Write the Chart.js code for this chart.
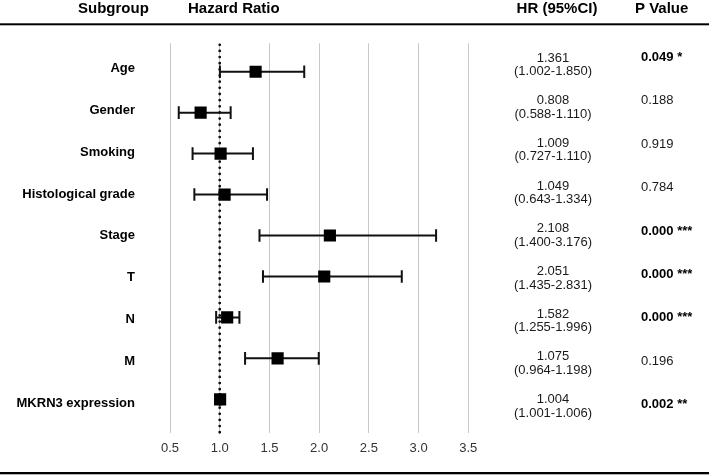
<!DOCTYPE html>
<html>
<head>
<meta charset="utf-8">
<script src="https://cdn.jsdelivr.net/npm/chart.js@4/dist/chart.umd.min.js"></script>
<style>
  html, body { margin: 0; padding: 0; background: #fff; }
  #wrap { width: 709px; height: 475px; position: relative; }
</style>
</head>
<body>
<div id="wrap"><canvas id="forest"></canvas></div>
<script>
// rows, top to bottom
const subgroups = ['Age', 'Gender', 'Smoking', 'Histological grade', 'Stage', 'T', 'N', 'M', 'MKRN3 expression'];

// values as plotted
const hrPlot    = [1.361, 0.808, 1.009, 1.049, 2.108, 2.051, 1.075, 1.582, 1.004];
const lowerPlot = [1.002, 0.588, 0.727, 0.745, 1.400, 1.435, 0.964, 1.255, 1.001];
const upperPlot = [1.850, 1.110, 1.334, 1.476, 3.176, 2.831, 1.198, 1.996, 1.006];

// table columns as printed
const hrText = ['1.361', '0.808', '1.009', '1.049', '2.108', '2.051', '1.582', '1.075', '1.004'];
const ciText = ['(1.002-1.850)', '(0.588-1.110)', '(0.727-1.110)', '(0.643-1.334)', '(1.400-3.176)',
                '(1.435-2.831)', '(1.255-1.996)', '(0.964-1.198)', '(1.001-1.006)'];
const pText  = ['0.049 *', '0.188', '0.919', '0.784', '0.000 ***', '0.000 ***', '0.000 ***', '0.196', '0.002 **'];
const pBold  = [true, false, false, false, true, true, true, false, true];

const headers = ['Subgroup', 'Hazard Ratio', 'HR (95%CI)', 'P Value'];
const xMin = 0.5, xMax = 3.5, xStep = 0.5;
const refValue = 1.0;

const FONT = '"Liberation Sans", Arial, Helvetica, sans-serif';

const points = hrPlot.map((v, i) => ({ x: v, y: i }));

const forestPlugin = {
    id: 'forest',
    beforeDatasetsDraw(chart) {
        const ctx = chart.ctx;
        const xs = chart.scales.x, ys = chart.scales.y;
        const area = chart.chartArea;

        // dotted line at HR = 1
        const xr = xs.getPixelForValue(refValue);
        ctx.save();
        ctx.strokeStyle = '#111';
        ctx.lineWidth = 2.8;
        ctx.lineCap = 'round';
        ctx.setLineDash([0, 6.15]);
        ctx.beginPath();
        ctx.moveTo(xr, area.top + 1.5);
        ctx.lineTo(xr, area.bottom);
        ctx.stroke();
        ctx.restore();

        // error bars with caps
        ctx.save();
        ctx.strokeStyle = '#111';
        ctx.lineWidth = 2;
        for (let i = 0; i < subgroups.length; i++) {
            const y = ys.getPixelForValue(i);
            const x1 = xs.getPixelForValue(lowerPlot[i]);
            const x2 = xs.getPixelForValue(upperPlot[i]);
            ctx.beginPath();
            ctx.moveTo(x1, y); ctx.lineTo(x2, y);
            ctx.moveTo(x1, y - 6.3); ctx.lineTo(x1, y + 6.3);
            ctx.moveTo(x2, y - 6.3); ctx.lineTo(x2, y + 6.3);
            ctx.stroke();
        }
        ctx.restore();
    },
    afterDraw(chart) {
        const ctx = chart.ctx;
        const W = chart.width;
        ctx.save();

        // header row
        ctx.fillStyle = '#000';
        ctx.font = 'bold 15px ' + FONT;
        ctx.textBaseline = 'alphabetic';
        ctx.textAlign = 'left';
        ctx.fillText(headers[0], 78, 13);
        ctx.fillText(headers[1], 188, 13);
        ctx.textAlign = 'center';
        ctx.fillText(headers[2], 557, 13);
        ctx.textAlign = 'left';
        ctx.fillText(headers[3], 635, 13);

        // rules
        ctx.fillRect(0, 23.3, W, 2);
        ctx.fillRect(0, 472, W, 2.3);

        // subgroup labels
        ctx.font = 'bold 13px ' + FONT;
        ctx.textAlign = 'right';
        ctx.textBaseline = 'middle';
        subgroups.forEach((s, i) => ctx.fillText(s, 135, 68.7 + i * 41.8));

        // HR (95%CI)
        ctx.fillStyle = '#1a1a1a';
        ctx.font = '13px ' + FONT;
        ctx.textAlign = 'center';
        hrText.forEach((s, i) => {
            const y = 58 + i * 42.7;
            ctx.fillText(s, 553, y);
            ctx.fillText(ciText[i], 553, y + 13.5);
        });

        // P value
        ctx.textAlign = 'left';
        pText.forEach((s, i) => {
            ctx.font = (pBold[i] ? 'bold ' : '') + '13px ' + FONT;
            ctx.fillStyle = pBold[i] ? '#000' : '#1a1a1a';
            ctx.fillText(s, 641, 57.5 + i * 43.4);
        });

        ctx.restore();
    }
};

new Chart(document.getElementById('forest'), {
    type: 'scatter',
    data: {
        datasets: [{
            label: 'Hazard Ratio',
            data: points,
            pointStyle: 'rect',
            pointRadius: 8.6,
            pointHoverRadius: 8.6,
            backgroundColor: '#000',
            borderColor: '#000',
            borderWidth: 0
        }]
    },
    options: {
        responsive: true,
        maintainAspectRatio: false,
        animation: false,
        events: [],
        layout: { padding: { left: 170, right: 240.7, top: 43.3, bottom: 0 } },
        plugins: { legend: { display: false }, tooltip: { enabled: false } },
        scales: {
            x: {
                type: 'linear',
                min: xMin,
                max: xMax,
                border: { display: false },
                grid: { color: '#c8c8c8', lineWidth: 1, drawTicks: false },
                afterFit: scale => { scale.height = 42.3; },
                ticks: {
                    stepSize: xStep,
                    padding: 8,
                    color: '#333',
                    font: { family: FONT, size: 13 },
                    callback: v => Number(v).toFixed(1)
                }
            },
            y: {
                type: 'linear',
                reverse: true,
                min: -0.694,
                max: 8.815,
                display: false
            }
        }
    },
    plugins: [forestPlugin]
});
</script>
</body>
</html>
